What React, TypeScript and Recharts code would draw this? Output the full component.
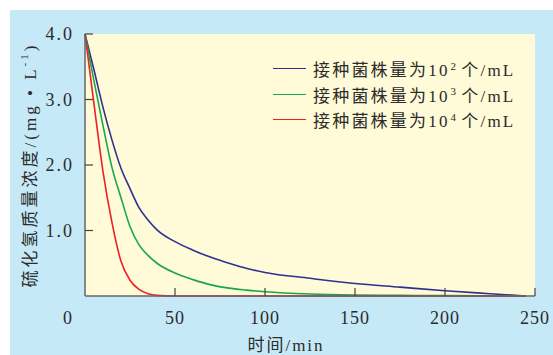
import { CartesianGrid, Legend, Line, LineChart, XAxis, YAxis } from "recharts";

// time (min) and H2S concentration (mg/L)
const TIMES = [0, 5, 10, 15, 20, 25, 30, 35, 40, 50, 60, 70, 80, 90, 100, 125, 150, 175, 200, 225, 245];
const BLUE = [4.0, 3.45, 2.88, 2.38, 1.95, 1.64, 1.35, 1.16, 1.01, 0.83, 0.7, 0.59, 0.5, 0.42, 0.36, 0.27, 0.19, 0.135, 0.08, 0.035, 0.0];
const GREEN = [4.0, 3.28, 2.6, 1.96, 1.5, 1.06, 0.78, 0.62, 0.5, 0.35, 0.25, 0.17, 0.12, 0.09, 0.065, 0.03, 0.015, 0.01, 0.005, 0.002, 0.0];
const RED = [4.0, 2.93, 1.9, 1.12, 0.53, 0.24, 0.1, 0.035, 0.01, 0, 0, 0, 0, 0, 0, 0, 0, 0, 0, 0, 0];

const EXPONENTS = ["2", "3", "4"];
const LABEL_PREFIX = "接种菌株量为10";
const LABEL_SUFFIX = "个/mL";
const COLORS = ["#2e3192", "#17a84b", "#ed2024"];

const X_TICKS = [0, 50, 100, 150, 200, 250];
const Y_TICKS = [1, 2, 3, 4];

const FONT = "'Liberation Serif', 'Noto Sans CJK SC', serif";
const TEXT = "#2b2b2b";

const data = TIMES.map((t, i) => ({ t, s2: BLUE[i], s3: GREEN[i], s4: RED[i] }));

function XTick(props: any) {
  const { x, y, payload } = props;
  const v = payload.value;
  return (
    <g>
      {v !== 0 && <line x1={x} x2={x} y1={y} y2={y - 8} stroke="#444" strokeWidth={1.2} />}
      <text x={v === 0 ? x - 17 : x} y={y + 28} textAnchor="middle" style={{ fontFamily: FONT }} fontSize={18} letterSpacing={1} fill={TEXT}>
        {v}
      </text>
    </g>
  );
}

function YTick(props: any) {
  const { x, y, payload } = props;
  return (
    <g>
      <line x1={x} x2={x + 8} y1={y} y2={y} stroke="#444" strokeWidth={1.2} />
      <text x={x - 11} y={y + 6} textAnchor="end" style={{ fontFamily: FONT }} fontSize={18} letterSpacing={2} fill={TEXT}>
        {payload.value.toFixed(1)}
      </text>
    </g>
  );
}

function LegendBox(props: any) {
  const items = props.payload || [];
  return (
    <div style={{ fontFamily: FONT, fontSize: 17, color: TEXT }}>
      {items.map((it: any, i: number) => (
        <div key={i} style={{ display: "flex", alignItems: "center", height: 25.5, whiteSpace: "nowrap" }}>
          <span style={{ display: "inline-block", width: 33, borderTop: `1.4px solid ${it.color}`, marginRight: 7 }} />
          <span style={{ letterSpacing: 2.2 }}>
            {LABEL_PREFIX}
            <sup style={{ fontSize: 11, marginLeft: 1, marginRight: 3 }}>{EXPONENTS[i]}</sup>
            {LABEL_SUFFIX}
          </span>
        </div>
      ))}
    </div>
  );
}

export default function App() {
  return (
    <div style={{ position: "absolute", left: 10, top: 10, width: 543, height: 345, background: "#c6e9f8" }}>
      <LineChart width={543} height={345} data={data} margin={{ top: 24, right: 18, left: 0, bottom: 0 }}>
        <CartesianGrid fill="#fffad7" stroke="none" horizontal={false} vertical={false} />
        <XAxis
          type="number"
          dataKey="t"
          domain={[0, 250]}
          ticks={X_TICKS}
          height={59}
          tickSize={0}
          tickMargin={0}
          tickLine={false}
          axisLine={{ stroke: "#666", strokeWidth: 1.5 }}
          tick={<XTick />}
          interval={0}
          label={{
            content: () => (
              <text x={276} y={341} textAnchor="middle" style={{ fontFamily: FONT }} fontSize={17} letterSpacing={2} fill={TEXT}>
                时间/min
              </text>
            ),
          }}
        />
        <YAxis
          type="number"
          domain={[0, 4]}
          ticks={Y_TICKS}
          width={75}
          tickSize={0}
          tickMargin={0}
          tickLine={false}
          axisLine={{ stroke: "#666", strokeWidth: 1.5 }}
          tick={<YTick />}
          interval={0}
          label={{
            content: () => (
              <text
                x={20}
                y={155}
                transform="rotate(-90 20 155)"
                textAnchor="middle"
                dominantBaseline="central"
                style={{ fontFamily: FONT }}
                fontSize={17}
                letterSpacing={3}
                fill={TEXT}
              >
                硫化氢质量浓度/(mg • L<tspan dy={-6} fontSize={11}>-1</tspan>
                <tspan dy={6}>)</tspan>
              </text>
            ),
          }}
        />
        <Legend
          layout="vertical"
          verticalAlign="middle"
          align="center"
          content={<LegendBox />}
          wrapperStyle={{ left: 263, top: 46, width: 270 }}
        />
        <Line type="monotone" dataKey="s2" name="s2" stroke={COLORS[0]} strokeWidth={1.6} dot={false} isAnimationActive={false} />
        <Line type="monotone" dataKey="s3" name="s3" stroke={COLORS[1]} strokeWidth={1.6} dot={false} isAnimationActive={false} />
        <Line type="monotone" dataKey="s4" name="s4" stroke={COLORS[2]} strokeWidth={1.6} dot={false} isAnimationActive={false} />
      </LineChart>
    </div>
  );
}
